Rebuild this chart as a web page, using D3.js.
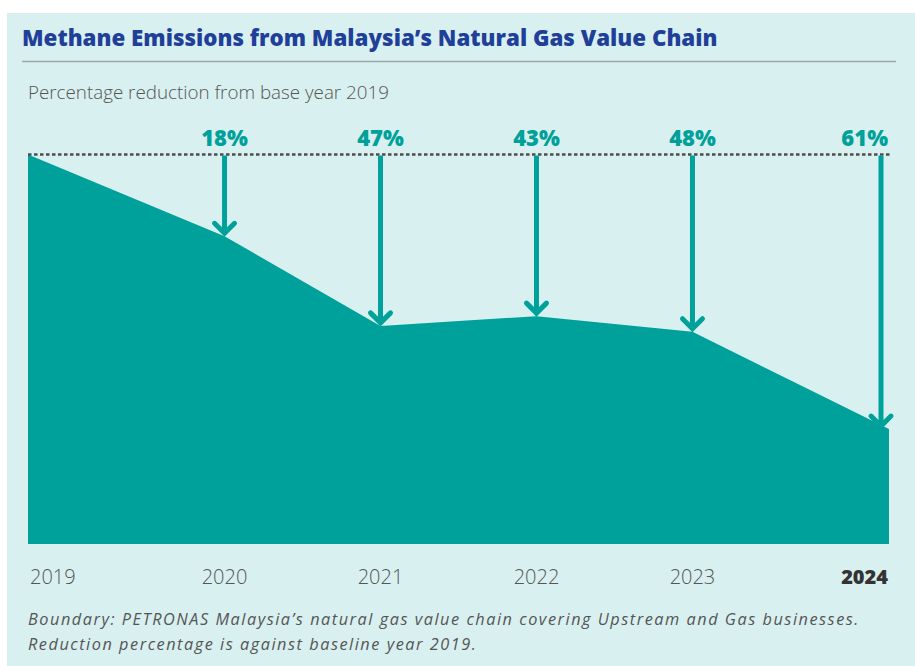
<!DOCTYPE html>
<html>
<head>
<meta charset="utf-8">
<script src="https://cdn.jsdelivr.net/npm/d3@7"></script>
<style>
  html, body { margin: 0; padding: 0; background: #ffffff; }
  svg { display: block; }
</style>
</head>
<body>
<svg id="chart" width="915" height="666"></svg>
<script>
// ---- data ----
const years = ["2019", "2020", "2021", "2022", "2023", "2024"];
// percentage reduction labels vs 2019 baseline
const reductionLabels = [null, "18%", "47%", "43%", "48%", "61%"];
// emission level as drawn (2019 = 100)
const emissionIndex = [100, 79, 56, 58.5, 54.5, 29.5];
const title = "Methane Emissions from Malaysia\u2019s Natural Gas Value Chain";
const subtitle = "Percentage reduction from base year 2019";
const notes = [
  "Boundary: PETRONAS Malaysia\u2019s natural gas value chain covering Upstream and Gas businesses.",
  "Reduction percentage is against baseline year 2019."
];

(function () {
// ---- styles ----
const TEAL = "#00a19a";
const BG = "#d9f0f0";
const BLUE = "#1f3f99";
const GREY = "#555555";
const FONT = "'Open Sans', sans-serif";

const svg = d3.select("#chart");
svg.append("rect").attr("x", 7).attr("y", 13).attr("width", 908).attr("height", 653).attr("fill", BG);

const fitWidth = (sel, w) => {
  const bb = sel.node().getComputedTextLength();
  const fs = parseFloat(sel.attr("font-size"));
  sel.attr("font-size", (fs * w / bb).toFixed(2));
};

const t = svg.append("text").attr("x", 22).attr("y", 46)
  .attr("font-family", FONT).attr("font-weight", 800)
  .attr("font-size", 22).attr("fill", BLUE).text(title);
fitWidth(t, 696);

svg.append("line").attr("x1", 22).attr("x2", 896).attr("y1", 61.5).attr("y2", 61.5)
  .attr("stroke", "#9ba7a9").attr("stroke-width", 1.5);

const st = svg.append("text").attr("x", 28).attr("y", 99)
  .attr("font-family", FONT).attr("font-weight", 300)
  .attr("font-size", 16.5).attr("fill", GREY).text(subtitle);
fitWidth(st, 361);

// ---- scales ----
const pLeft = 28, pRight = 889, pTop = 154.5, pBottom = 544;
const x = d3.scalePoint().domain(years).range([pLeft, pRight]).padding(0.26);
// end years sit at the plot edges
const px = (d, i) => i === 0 ? pLeft : (i === years.length - 1 ? pRight : x(d));
const y = d3.scaleLinear().domain([0, 100]).range([pBottom, pTop]);

const pts = years.map((d, i) => ({ year: d, i, v: emissionIndex[i], label: reductionLabels[i] }));

// area
const area = d3.area()
  .x(d => px(d.year, d.i))
  .y0(pBottom)
  .y1(d => y(d.v))
  .curve(d3.curveLinear);
svg.append("path").datum(pts).attr("d", area).attr("fill", TEAL);

// baseline dotted line
svg.append("line").attr("x1", pLeft).attr("x2", pRight + 1).attr("y1", pTop).attr("y2", pTop)
  .attr("stroke", "#4d4d4d").attr("stroke-width", 2.5).attr("stroke-dasharray", "3.5,2.5");

// arrows
const arrowX = (d) => Math.min(px(d.year, d.i), pRight - 8);
const arrows = svg.append("g").selectAll("g").data(pts.filter(d => d.label)).join("g");
arrows.append("line")
  .attr("x1", arrowX).attr("x2", arrowX)
  .attr("y1", pTop + 1).attr("y2", d => y(d.v) - 3)
  .attr("stroke", TEAL).attr("stroke-width", 5);
arrows.append("path")
  .attr("d", d => {
    const ax = arrowX(d), ty = y(d.v) - 3;
    return `M${ax - 10},${ty - 10} L${ax},${ty} L${ax + 10},${ty - 10}`;
  })
  .attr("fill", "none").attr("stroke", TEAL).attr("stroke-width", 5)
  .attr("stroke-linecap", "round").attr("stroke-linejoin", "miter");

// percentage labels
svg.append("g").selectAll("text").data(pts.filter(d => d.label)).join("text")
  .attr("x", d => d.i === years.length - 1 ? pRight - 1 : arrowX(d))
  .attr("y", 146)
  .attr("text-anchor", d => d.i === years.length - 1 ? "end" : "middle")
  .attr("font-family", FONT).attr("font-weight", 800)
  .attr("font-size", 22).attr("fill", TEAL)
  .text(d => d.label);

// year axis labels
svg.append("g").selectAll("text").data(pts).join("text")
  .attr("x", d => d.i === 0 ? pLeft + 2 : (d.i === years.length - 1 ? pRight - 1 : x(d.year)))
  .attr("y", 584)
  .attr("text-anchor", d => d.i === 0 ? "start" : (d.i === years.length - 1 ? "end" : "middle"))
  .attr("font-family", FONT)
  .attr("font-weight", d => d.i === years.length - 1 ? 800 : 300)
  .attr("font-size", 20)
  .attr("fill", d => d.i === years.length - 1 ? "#333333" : GREY)
  .text(d => d.year);

// notes
const nt = svg.append("g").selectAll("text").data(notes).join("text")
  .attr("x", 28).attr("y", (d, i) => 625 + i * 25)
  .attr("font-family", FONT).attr("font-style", "italic").attr("font-weight", 400)
  .attr("font-size", 16.3).attr("fill", GREY)
  .text(d => d);
const n0 = nt.nodes()[0];
const L = n0.getComputedTextLength();
const ls = Math.max(0, (832 - L) / notes[0].length);
nt.attr("letter-spacing", ls.toFixed(3));
})();
</script>
</body>
</html>
